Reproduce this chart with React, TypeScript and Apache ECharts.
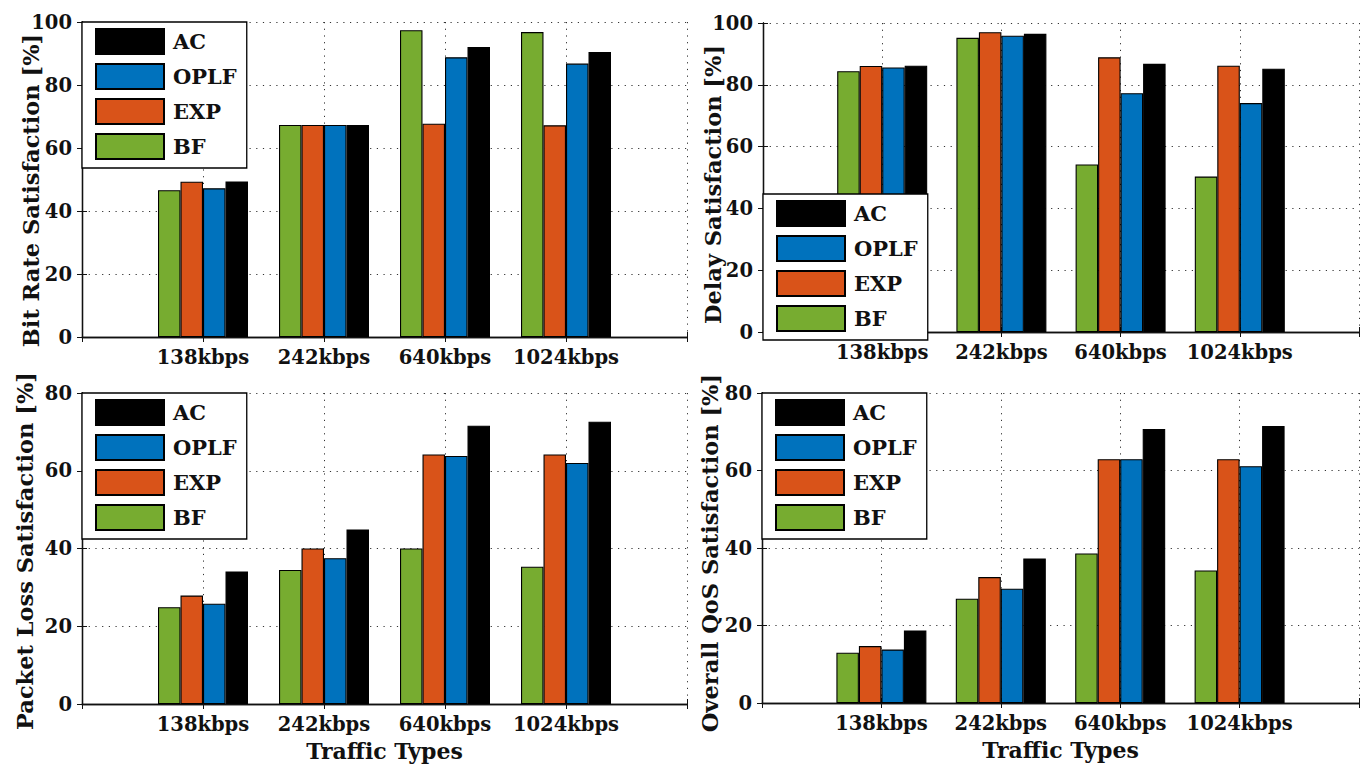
import React, { useEffect, useRef } from "react";
import * as echarts from "echarts";

const categories = ["138kbps", "242kbps", "640kbps", "1024kbps"];
const categoryPositions = [1, 2, 3, 4];
const methods = ["BF", "EXP", "OPLF", "AC"];
const legendOrder = ["AC", "OPLF", "EXP", "BF"];
const methodColors = ["#77AC30", "#D95319", "#0072BD", "#000000"];

const bitRateBF = [46.6, 67.3, 97.4, 96.8];
const bitRateEXP = [49.3, 67.3, 67.7, 67.2];
const bitRateOPLF = [47.2, 67.3, 88.8, 86.8];
const bitRateAC = [49.4, 67.3, 92.1, 90.5];

const delayBF = [84.4, 95.2, 54.2, 50.3];
const delayEXP = [86.1, 97.0, 88.9, 86.2];
const delayOPLF = [85.6, 95.9, 77.3, 74.1];
const delayAC = [86.2, 96.5, 86.8, 85.2];

const lossBF = [24.9, 34.5, 40.0, 35.3];
const lossEXP = [27.9, 40.0, 64.2, 64.2];
const lossOPLF = [25.8, 37.5, 63.8, 62.0];
const lossAC = [34.1, 44.9, 71.6, 72.6];

const qosBF = [13.0, 26.9, 38.6, 34.2];
const qosEXP = [14.7, 32.5, 62.9, 62.9];
const qosOPLF = [13.8, 29.5, 62.9, 61.1];
const qosAC = [18.7, 37.3, 70.7, 71.5];

const yTitles = [
  "Bit Rate Satisfaction [%]",
  "Delay Satisfaction [%]",
  "Packet Loss Satisfaction [%]",
  "Overall QoS Satisfaction [%]",
];
const yMax = [100, 100, 80, 80];
const xTitle = "Traffic Types";

const FONT = "DejaVu Serif";
const INK = "#111111";

export default function App() {
  const ref = useRef<HTMLDivElement>(null);

  useEffect(() => {
    document.body.style.margin = "0";
    if (!ref.current) return;
    const chart = echarts.init(ref.current, undefined, { renderer: "svg" });

    const panels = [
      [bitRateBF, bitRateEXP, bitRateOPLF, bitRateAC],
      [delayBF, delayEXP, delayOPLF, delayAC],
      [lossBF, lossEXP, lossOPLF, lossAC],
      [qosBF, qosEXP, qosOPLF, qosAC],
    ];

    const grids = [
      { left: 82, top: 22, width: 605, height: 315 },
      { left: 763, top: 23, width: 605, height: 309 },
      { left: 82, top: 393, width: 605, height: 311 },
      { left: 762, top: 393, width: 605, height: 310 },
    ];
    const yNameGaps = [40, 39, 46, 41];
    const yNameShift = [22, 14, 5, 10];
    const legendPos = [
      { left: 82, top: 22 },
      { left: 763, top: 194 },
      { left: 82, top: 393 },
      { left: 762, top: 393 },
    ];

    const dotted = { color: "#333", width: 1, type: [1.2, 5.5] as any };
    const frame = { color: INK, width: 1.3 };

    const xAxes: any[] = [];
    const yAxes: any[] = [];
    grids.forEach((_, i) => {
      xAxes.push({
        type: "value",
        gridIndex: i,
        min: 0,
        max: 5,
        interval: 1,
        position: "bottom",
        name: i >= 2 ? xTitle : "",
        nameLocation: "middle",
        nameGap: 36,
        nameMoveOverlap: false,
        nameTextStyle: { fontFamily: FONT, fontSize: 22, fontWeight: "bold", color: INK },
        axisLine: { show: true, lineStyle: frame },
        axisTick: { show: true, inside: true, length: 5, lineStyle: { color: INK } },
        axisLabel: {
          fontFamily: FONT,
          fontSize: 19.5,
          fontWeight: "bold",
          color: INK,
          margin: 10,
          formatter: (v: number) => {
            const k = categoryPositions.indexOf(v);
            return k >= 0 ? categories[k] : "";
          },
        },
        splitLine: { show: true, lineStyle: dotted },
      });
      yAxes.push({
        type: "value",
        gridIndex: i,
        min: 0,
        max: yMax[i],
        interval: 20,
        position: "left",
        name: yTitles[i],
        nameLocation: "middle",
        nameGap: yNameGaps[i],
        nameMoveOverlap: false,
        nameTextStyle: {
          fontFamily: FONT,
          fontSize: 22.5,
          fontWeight: "bold",
          color: INK,
          padding: [0, yNameShift[i], 0, 0],
        },
        axisLine: { show: true, lineStyle: frame },
        axisTick: { show: true, inside: true, length: 5, lineStyle: { color: INK } },
        axisLabel: { fontFamily: FONT, fontSize: 19.5, fontWeight: "bold", color: INK, margin: 10 },
        splitLine: { show: true, lineStyle: dotted },
      });
    });
    grids.forEach((_, i) => {
      xAxes.push({
        type: "value",
        gridIndex: i,
        min: 0,
        max: 5,
        interval: 1,
        position: "top",
        axisLine: { show: true, lineStyle: frame },
        axisTick: { show: true, inside: true, length: 5, lineStyle: { color: INK } },
        axisLabel: { show: false },
        splitLine: { show: false },
      });
      yAxes.push({
        type: "value",
        gridIndex: i,
        min: 0,
        max: yMax[i],
        interval: 20,
        position: "right",
        axisLine: { show: true, lineStyle: frame },
        axisTick: { show: true, inside: true, length: 5, lineStyle: { color: INK } },
        axisLabel: { show: false },
        splitLine: { show: false },
      });
    });

    const series: any[] = [];
    panels.forEach((panel, i) => {
      panel.forEach((vals, m) => {
        series.push({
          type: "bar",
          name: methods[m],
          xAxisIndex: i,
          yAxisIndex: i,
          barWidth: 22.5,
          barGap: "0%",
          itemStyle: { color: methodColors[m], borderColor: "#000", borderWidth: 1.1 },
          data: vals.map((v, k) => [categoryPositions[k], v]),
        });
      });
    });

    const legends = legendPos.map((p) => ({
      show: true,
      orient: "vertical",
      left: p.left,
      top: p.top,
      data: legendOrder,
      icon: "rect",
      itemWidth: 68,
      itemHeight: 25,
      itemGap: 8,
      padding: [6, 10, 8, 13],
      backgroundColor: "#ffffff",
      borderColor: "#000",
      borderWidth: 1.3,
      selectedMode: false,
      textStyle: {
        fontFamily: FONT,
        fontSize: 21,
        fontWeight: "bold",
        color: INK,
        lineHeight: 25,
        padding: [0, 0, 0, 4],
      },
      z: 10,
    }));

    chart.setOption({
      animation: false,
      backgroundColor: "#ffffff",
      grid: grids.map((g) => ({ ...g, containLabel: false })),
      xAxis: xAxes,
      yAxis: yAxes,
      legend: legends,
      series,
    });

    return () => chart.dispose();
  }, []);

  return <div ref={ref} style={{ width: 1362, height: 771 }} />;
}
